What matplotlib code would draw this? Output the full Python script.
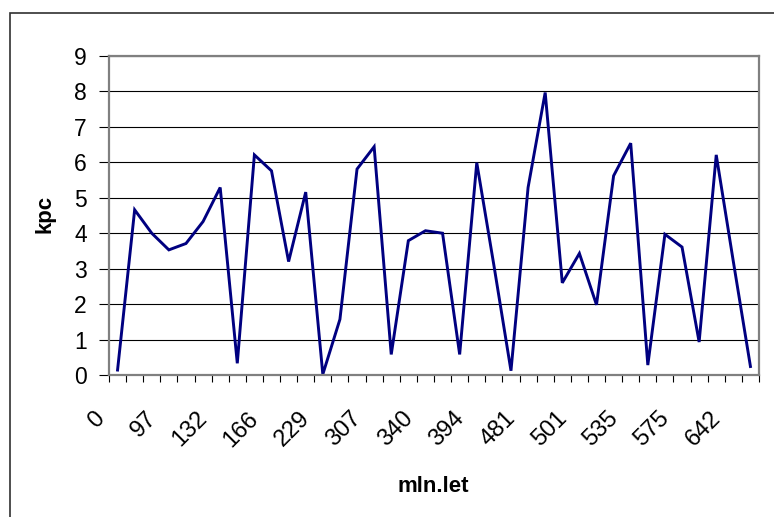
import matplotlib
matplotlib.use('Agg')
import matplotlib.pyplot as plt
import matplotlib.transforms as mtransforms
from matplotlib.patches import Rectangle
import numpy as np

# values (38 categories)
values = [0.14, 4.66, 4.0, 3.53, 3.71, 4.33, 5.29, 0.33, 6.21, 5.76,
          3.2, 5.16, 0.02, 1.57, 5.81, 6.44, 0.58, 3.79, 4.07, 4.0,
          0.58, 5.99, 3.1, 0.12, 5.29, 7.97, 2.6, 3.43, 1.98, 5.62,
          6.54, 0.28, 3.97, 3.61, 0.93, 6.21, 3.2, 0.24]
# every third category carries a visible label
tick_labels = ['0', '97', '132', '166', '229', '307', '340', '394',
               '481', '501', '535', '575', '642']
label_step = 3

plt.rcParams['font.family'] = ['Liberation Sans', 'DejaVu Sans']

W, H = 774, 517
fig = plt.figure(figsize=(W / 100, H / 100), dpi=100)
ax = fig.add_axes([109 / W, 1 - 375 / H, 650 / W, 319 / H])

x = np.arange(len(values)) + 0.5
ax.plot(x, values, color='#000080', linewidth=2.1, solid_joinstyle='miter')

ax.set_xlim(0, len(values))
ax.set_ylim(0, 9)
ax.set_yticks(range(0, 10))
ax.yaxis.grid(True, color='#000000', linewidth=0.8)
ax.set_axisbelow(True)

for side in ['left', 'bottom', 'top', 'right']:
    ax.spines[side].set_color('#808080')
    ax.spines[side].set_linewidth(1.6)

ax.tick_params(axis='y', direction='out', length=7, width=0.8,
               color='#000000', pad=9, labelsize=16.5)

# category boundary ticks
ax.set_xticks(np.arange(0, len(values) + 1), minor=True)
ax.tick_params(axis='x', which='minor', direction='out', length=5,
               width=0.8, color='#000000')

pos = [i * label_step + 0.5 for i in range(len(tick_labels))]
ax.set_xticks(pos)
ax.set_xticklabels(tick_labels)
ax.tick_params(axis='x', which='major', length=0, pad=29, labelsize=17)
shift = mtransforms.ScaledTranslation(-16 / 100, 0, fig.dpi_scale_trans)
for lab in ax.get_xticklabels():
    lab.set_rotation(45)
    lab.set_ha('right')
    lab.set_va('center')
    lab.set_rotation_mode('anchor')
    lab.set_transform(lab.get_transform() + shift)

fig.text(45 / W, 1 - 214 / H, 'kpc', rotation=90, ha='center', va='center',
         fontsize=16, fontweight='bold')
fig.text(433 / W, 1 - 486 / H, 'mln.let', ha='center', va='center',
         fontsize=16, fontweight='bold')

# chart area frame (runs off the right and bottom edges)
fig.patches.append(Rectangle((10 / W, -0.2), 1.5, 1 - 13 / H + 0.2,
                             transform=fig.transFigure, fill=False,
                             edgecolor='#303030', linewidth=1.2))

fig.savefig('out.png', dpi=100)
